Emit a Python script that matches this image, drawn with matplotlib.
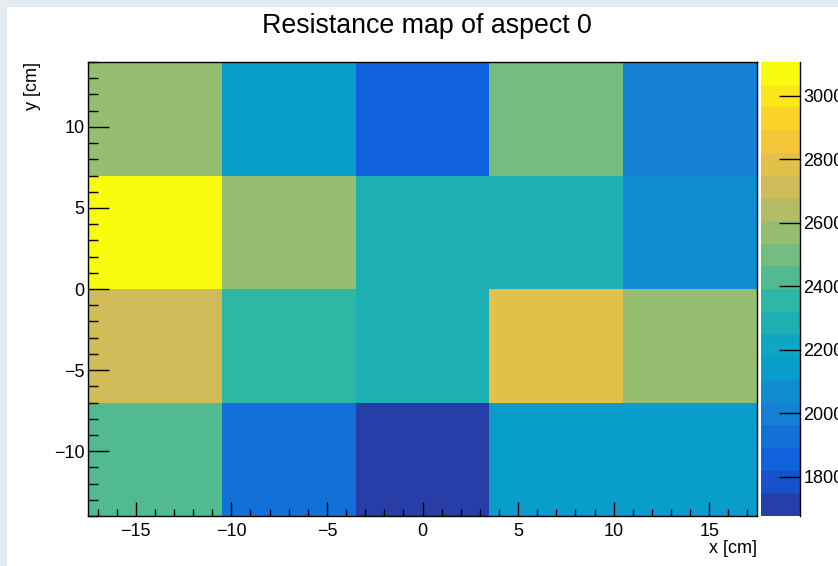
import numpy as np
import matplotlib
matplotlib.use("Agg")
import matplotlib.pyplot as plt
from matplotlib.colors import LinearSegmentedColormap, ListedColormap, BoundaryNorm
from matplotlib.patches import Rectangle
from matplotlib.ticker import MultipleLocator

plt.rcParams['font.family'] = ['Liberation Sans', 'DejaVu Sans']

# bin edges of the map (cm)
x_edges = [-17.5, -10.5, -3.5, 3.5, 10.5, 17.5]
y_edges = [-14, -7, 0, 7, 14]

# resistance per cell, rows from bottom (y=-10.5) to top (y=10.5)
row_m10 = [2430, 1930, 1676, 2145, 2138]
row_m3 = [2716, 2352, 2290, 2781, 2566]
row_p3 = [3107, 2574, 2288, 2281, 2068]
row_p10 = [2572, 2142, 1858, 2495, 2001]
z = np.array([row_m10, row_m3, row_p3, row_p10])

cbar_ticks = [1800, 2000, 2200, 2400, 2600, 2800, 3000]

# ROOT kBird palette
stops = [0.0000, 0.1250, 0.2500, 0.3750, 0.5000, 0.6250, 0.7500, 0.8750, 1.0000]
red = [0.2082, 0.0592, 0.0780, 0.0232, 0.1802, 0.5301, 0.8186, 0.9956, 0.9764]
green = [0.1664, 0.3599, 0.5041, 0.6419, 0.7178, 0.7492, 0.7328, 0.7862, 0.9832]
blue = [0.5293, 0.8684, 0.8385, 0.7914, 0.6425, 0.4662, 0.3499, 0.1968, 0.0539]
bird = LinearSegmentedColormap.from_list(
    "bird", list(zip(stops, zip(red, green, blue))), N=255)

ncont = 20
idx = [int((i + 0.99) * 255 / ncont) for i in range(ncont)]
cmap = ListedColormap([bird(k / 254) for k in idx])
levels = np.linspace(z.min(), z.max(), ncont + 1)
norm = BoundaryNorm(levels, cmap.N)

fig = plt.figure(figsize=(8.38, 5.66), dpi=100)
fig.patch.set_facecolor("#e4ebf2")
# white canvas inside the grey window border
fig.add_artist(Rectangle((7 / 838, 0), 1, 1 - 7 / 566, transform=fig.transFigure,
                         facecolor="white", edgecolor="none", zorder=-10))

ax = fig.add_axes([88 / 838, 1 - 516 / 566, 669 / 838, 454 / 566])
mesh = ax.pcolormesh(x_edges, y_edges, z, cmap=cmap, norm=norm, edgecolors="face", linewidth=0)
ax.set_xlim(x_edges[0], x_edges[-1])
ax.set_ylim(y_edges[0], y_edges[-1])

ax.xaxis.set_major_locator(MultipleLocator(5))
ax.xaxis.set_minor_locator(MultipleLocator(1))
ax.yaxis.set_major_locator(MultipleLocator(5))
ax.yaxis.set_minor_locator(MultipleLocator(1))
ax.tick_params(axis="x", which="major", direction="in", length=10, width=1, pad=5, labelsize=13)
ax.tick_params(axis="x", which="minor", direction="in", length=5, width=1)
ax.tick_params(axis="y", which="major", direction="in", length=15, width=1, pad=2.5, labelsize=13)
ax.tick_params(axis="y", which="minor", direction="in", length=7.5, width=1)
for s in ax.spines.values():
    s.set_linewidth(1)

ax.set_xlabel("x [cm]", fontsize=13, loc="right", labelpad=0)
ax.set_ylabel("y [cm]", fontsize=13, loc="top", labelpad=9)

fig.text(426.5 / 838, 1 - 33 / 566, "Resistance map of aspect 0", fontsize=19.3,
         ha="center", va="baseline")

cax = fig.add_axes([761 / 838, 1 - 516 / 566, 39 / 838, 454 / 566])
cb = fig.colorbar(mesh, cax=cax, ticks=cbar_ticks)
cb.outline.set_visible(False)
cax.plot([1, 1], [0, 1], transform=cax.transAxes, color="black", lw=1, clip_on=False)
cax.tick_params(direction="in", length=15, width=1, pad=2.5, labelsize=13)
cax.minorticks_off()

fig.savefig("out.png", dpi=100)
